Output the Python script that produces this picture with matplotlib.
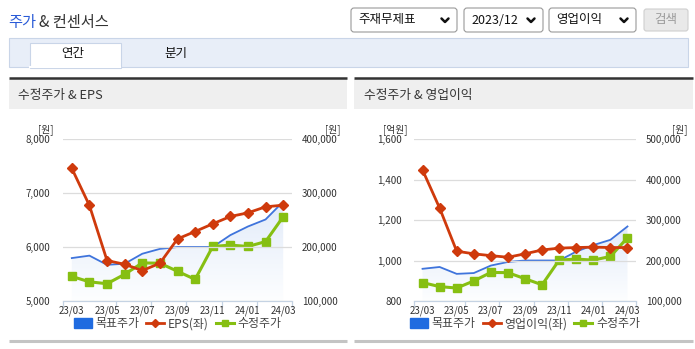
import numpy as np
import matplotlib
matplotlib.use("Agg")
import matplotlib.pyplot as plt
from matplotlib.patches import Rectangle, FancyBboxPatch, Patch
from matplotlib.lines import Line2D
from matplotlib.colors import LinearSegmentedColormap

plt.rcParams["font.family"] = ["Noto Sans CJK KR", "DejaVu Sans"]

# ---- data -------------------------------------------------------------------
months = ["23/03", "23/04", "23/05", "23/06", "23/07", "23/08", "23/09",
          "23/10", "23/11", "23/12", "24/01", "24/02", "24/03"]
target_price = [179500, 184000, 167000, 169000, 187500, 196500, 200000,
                200000, 200000, 222000, 238000, 251000, 284000]
adj_price = [145500, 135500, 132000, 149500, 170500, 170000, 155000,
             140000, 201000, 203500, 201000, 210000, 256000]
eps = [7456, 6769, 5749, 5680, 5563, 5699, 6150, 6287, 6429, 6565, 6633, 6744, 6775]
op_income = [1447, 1259, 1046, 1033, 1024, 1016, 1033, 1052, 1061, 1064, 1066, 1064, 1064]

BLUE_LINE = "#3f74dc"
BLUE_SQ = "#1f6be0"
RED = "#cf3a0c"
GREEN = "#86bf12"
TXT = "#333333"

W, H = 695, 349
fig = plt.figure(figsize=(W / 100, H / 100), dpi=100)

# ---- page chrome (pixel coords) ---------------------------------------------
ui = fig.add_axes([0, 0, 1, 1], zorder=0)
ui.set_xlim(0, W)
ui.set_ylim(H, 0)
ui.axis("off")

ui.text(8.5, 22, "주가", color="#2a5bd7", fontsize=11, va="center", ha="left")
ui.text(39, 22, "& 컨센서스", color=TXT, fontsize=11, va="center", ha="left")


def dropdown(x0, x1, label):
    ui.add_patch(FancyBboxPatch((x0, 8), x1 - x0, 24, boxstyle="round,pad=0,rounding_size=3",
                                facecolor="white", edgecolor="#9a9a9a", lw=0.8))
    ui.text(x0 + 7, 20, label, fontsize=9, color="#111111", va="center", ha="left")
    cx = x1 - 12
    ui.plot([cx - 3.5, cx, cx + 3.5], [18.5, 22, 18.5], color="#111111", lw=1.8,
            solid_capstyle="round", solid_joinstyle="round")


dropdown(351, 457, "주재무제표")
dropdown(464, 543, "2023/12")
dropdown(549, 636, "영업이익")
ui.add_patch(FancyBboxPatch((644, 9), 44, 22, boxstyle="round,pad=0,rounding_size=2.5",
                            facecolor="#e9e9e9", edgecolor="#cfcfcf", lw=0.8))
ui.text(666, 20, "검색", fontsize=9, color="#9a9a9a", va="center", ha="center")

# tab bar
ui.add_patch(Rectangle((9, 37.5), 679, 29, facecolor="#e8eef8", edgecolor="#c9d5e8", lw=0.8))
ui.add_patch(Rectangle((29.5, 42.5), 91, 25, facecolor="white", edgecolor="#c9d5e8", lw=0.8))
ui.plot([30, 120], [66.6, 66.6], color="white", lw=1.5)
ui.text(73, 54, "연간", fontsize=9, color="#111111", va="center", ha="center")
ui.text(176, 54, "분기", fontsize=9, color="#111111", va="center", ha="center")

# panel headers
for x0, x1, title in [(9, 347, "수정주가 & EPS"), (354, 693, "수정주가 & 영업이익")]:
    ui.add_patch(Rectangle((x0, 79), x1 - x0, 30, facecolor="#efefef", edgecolor="none"))
    ui.plot([x0, x1], [78.2, 78.2], color="#333333", lw=1.8, solid_capstyle="butt")
    ui.text(x0 + 9.5, 95, title, fontsize=9.2, color=TXT, va="center", ha="left")
    ui.plot([x0, x1], [340.5, 340.5], color="#c4c4c4", lw=2.2, solid_capstyle="butt")

# ---- charts -----------------------------------------------------------------
x = np.arange(len(months))
grad_cmap = LinearSegmentedColormap.from_list("g", ["#fdfeff", "#e2ebf9"])


def chart(px0, px1, left_vals, left_lim, left_ticks, right_lim, right_ticks,
          left_unit, left_unit_x, right_unit_x, red_label):
    py0, py1 = 139, 301
    ax = fig.add_axes([px0 / W, (H - py1) / H, (px1 - px0) / W, (py1 - py0) / H], zorder=2)
    ax2 = ax.twinx()
    ax.set_zorder(3)
    ax2.set_zorder(2)
    ax.patch.set_visible(False)

    # target price line + gradient area
    ymin = right_lim[0]
    grad = np.linspace(0, 1, 256).reshape(-1, 1)
    im = ax2.imshow(grad, extent=[-0.5, 12.5, ymin, max(target_price)], origin="lower",
                    aspect="auto", cmap=grad_cmap, zorder=1)
    poly = ax2.fill_between(x, target_price, ymin, facecolor="none", edgecolor="none")
    im.set_clip_path(poly.get_paths()[0], transform=ax2.transData)
    ax2.plot(x, target_price, color=BLUE_LINE, lw=1.3, zorder=2)
    ax2.plot(x, adj_price, color=GREEN, lw=2.2, marker="s", markersize=6.4, zorder=3)

    ax.plot(x, left_vals, color=RED, lw=2.0, marker="D", markersize=4.6, zorder=4)

    ax.set_xlim(-0.5, 12.5)
    ax.set_ylim(*left_lim)
    ax.set_yticks(left_ticks)
    ax.set_yticklabels([f"{v:,}" for v in left_ticks])
    ax2.set_ylim(*right_lim)
    ax2.set_yticks(right_ticks)
    ax2.set_yticklabels([f"{v:,}" for v in right_ticks])
    ax.grid(axis="y", color="#dcdcdc", lw=0.9)

    ax.set_xticks([-0.5, 2.5, 4.5, 6.5, 8.5, 10.5, 12.5])
    ax.set_xticklabels([])
    ax.set_xticks(x[::2], minor=True)
    ax.set_xticklabels(months[::2], minor=True)
    ax.tick_params(axis="x", which="major", length=4, color="#c5d3e3", width=0.9)
    ax.tick_params(axis="x", which="minor", length=0, pad=3, labelsize=7, labelcolor=TXT)
    ax.tick_params(axis="y", length=0, pad=9, labelsize=7, labelcolor=TXT)
    ax2.tick_params(axis="y", length=0, pad=7, labelsize=7, labelcolor=TXT)

    for a in (ax, ax2):
        for s in ("left", "right", "top"):
            a.spines[s].set_visible(False)
        a.spines["bottom"].set_color("#c5d3e3")

    ui.text(left_unit_x, 130, left_unit, fontsize=7, color=TXT, ha="center", va="center")
    ui.text(right_unit_x, 130, "[원]", fontsize=7, color=TXT, ha="center", va="center")

    handles = [
        Patch(facecolor=BLUE_SQ, edgecolor=BLUE_SQ),
        Line2D([], [], color=RED, lw=2.0, marker="D", markersize=4),
        Line2D([], [], color=GREEN, lw=2.2, marker="s", markersize=5),
    ]
    ax.legend(handles, ["목표주가", red_label, "수정주가"], ncol=3, frameon=False,
              loc="upper center", bbox_to_anchor=(0.5, -0.035), fontsize=8.6,
              handlelength=1.5, handleheight=0.9, handletextpad=0.3, columnspacing=0.6,
              labelcolor="#444444")


chart(63, 292, eps, (5000, 8000), [5000, 6000, 7000, 8000],
      (100000, 400000), [100000, 200000, 300000, 400000],
      "[원]", 46, 333, "EPS(좌)")
chart(414, 636, op_income, (800, 1600), [800, 1000, 1200, 1400, 1600],
      (100000, 500000), [100000, 200000, 300000, 400000, 500000],
      "[억원]", 395, 680, "영업이익(좌)")

fig.savefig("out.png", dpi=100)
